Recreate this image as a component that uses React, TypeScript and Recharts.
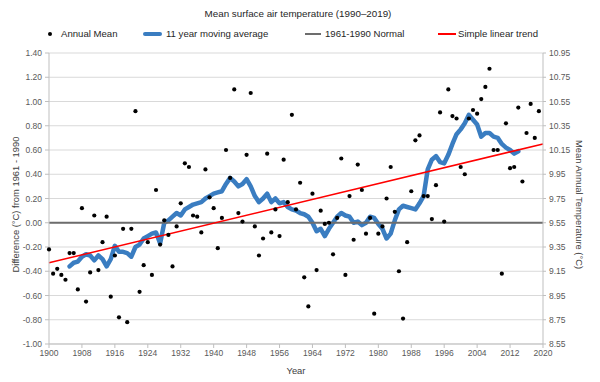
import { CartesianGrid, ComposedChart, Legend, Line, ReferenceLine, XAxis, YAxis } from "recharts";

const FONT = "'Liberation Sans', Arial, sans-serif";
const TITLE = "Mean surface air temperature (1990\u20132019)";

// annual mean difference from the 1961-1990 normal, 1900..2019
const firstYear = 1900;
const annualMean = [
  -0.22, -0.42, -0.38, -0.43, -0.47, -0.25, -0.25, -0.55, 0.12, -0.65,
  -0.41, 0.06, -0.39, -0.16, 0.05, -0.61, -0.27, -0.78, -0.05, -0.82,
  -0.05, 0.92, -0.57, -0.35, -0.16, -0.43, 0.27, -0.18, 0.02, -0.1,
  -0.36, -0.03, 0.16, 0.49, 0.46, 0.06, 0.05, -0.08, 0.44, 0.21,
  0.12, -0.21, 0.04, 0.6, 0.37, 1.1, 0.08, 0.01, 0.56, 1.07,
  -0.03, -0.27, -0.13, 0.57, -0.08, 0.11, -0.11, 0.52, 0.17, 0.89,
  0.11, 0.33, -0.45, -0.69, 0.24, -0.39, 0.1, -0.01, 0.0, -0.26,
  0.04, 0.53, -0.43, 0.22, -0.14, 0.48, 0.27, -0.09, 0.04, -0.75,
  -0.09, -0.03, 0.2, 0.46, 0.09, -0.4, -0.79, -0.16, 0.26, 0.68,
  0.72, 0.22, 0.22, 0.03, 0.31, 0.91, 0.01, 1.1, 0.88, 0.86,
  0.46, 0.4, 0.86, 0.93, 0.9, 1.02, 1.12, 1.27, 0.6, 0.6,
  -0.42, 0.82, 0.45, 0.46, 0.95, 0.34, 0.74, 0.98, 0.7, 0.92,
];

// 11 year moving average, 1905..2014
const avgFirstYear = 1905;
const movingAvg = [
  -0.36, -0.33, -0.32, -0.28, -0.26,
  -0.27, -0.31, -0.27, -0.3, -0.36, -0.3, -0.19, -0.24, -0.24, -0.25,
  -0.28, -0.2, -0.18, -0.13, -0.11, -0.09, -0.08, -0.17, 0.0, 0.02,
  0.05, 0.08, 0.06, 0.11, 0.13, 0.15, 0.16, 0.17, 0.2, 0.22,
  0.24, 0.25, 0.26, 0.32, 0.37, 0.34, 0.3, 0.32, 0.36, 0.3,
  0.22, 0.17, 0.2, 0.24, 0.17, 0.2, 0.16, 0.17, 0.13, 0.11,
  0.1, 0.08, 0.07, 0.05, 0.0, -0.07, -0.05, -0.11, -0.05, 0.0,
  0.05, 0.08, 0.06, 0.05, 0.0, 0.01, -0.02, 0.0, 0.05, 0.04,
  -0.01, -0.05, -0.13, -0.09, 0.02, 0.11, 0.14, 0.13, 0.12, 0.11,
  0.16, 0.22, 0.44, 0.52, 0.55, 0.5, 0.49, 0.56, 0.65, 0.73,
  0.77, 0.82, 0.89, 0.85, 0.81, 0.71, 0.74, 0.74, 0.71, 0.7,
  0.65, 0.62, 0.6, 0.57, 0.59,
];

const trendYears = [1900, 2020];
const trendValues = [-0.33, 0.65];
const NORMAL = 0;

const yearTicks = [1900, 1908, 1916, 1924, 1932, 1940, 1948, 1956, 1964, 1972, 1980, 1988, 1996, 2004, 2012, 2020];
const diffTicks = [-1.0, -0.8, -0.6, -0.4, -0.2, 0.0, 0.2, 0.4, 0.6, 0.8, 1.0, 1.2, 1.4];
const absTicks = [8.55, 8.75, 8.95, 9.15, 9.35, 9.55, 9.75, 9.95, 10.15, 10.35, 10.55, 10.75, 10.95];

const rows: { year: number; mean?: number; avg?: number; trend?: number }[] = [];
for (let y = trendYears[0]; y <= trendYears[1]; y++) {
  const i = y - firstYear;
  const j = y - avgFirstYear;
  const t = trendYears.indexOf(y);
  rows.push({
    year: y,
    mean: i >= 0 && i < annualMean.length ? annualMean[i] : undefined,
    avg: j >= 0 && j < movingAvg.length ? movingAvg[j] : undefined,
    trend: t >= 0 ? trendValues[t] : undefined,
  });
}

const tickStyle = { fontSize: 8.5, fill: "#595959", fontFamily: FONT };
const axisGray = "#bfbfbf";

function Header() {
  const text = { position: "absolute" as const, top: 28, fontSize: 9.6, lineHeight: "12px", color: "#262626" };
  return (
    <div style={{ position: "relative", width: 600, height: 53, fontFamily: FONT }}>
      <div style={{ position: "absolute", top: 8, left: 0, width: 596, textAlign: "center", fontSize: 9.8, color: "#262626" }}>
        {TITLE}
      </div>
      <div style={{ position: "absolute", top: 32, left: 48, width: 4, height: 4, borderRadius: 2, background: "#000" }} />
      <div style={{ ...text, left: 61 }}>Annual Mean</div>
      <div style={{ position: "absolute", top: 32, left: 143, width: 19, height: 4, borderRadius: 2, background: "#3a7dc1" }} />
      <div style={{ ...text, left: 166 }}>11 year moving average</div>
      <div style={{ position: "absolute", top: 33, left: 305, width: 16, height: 2, background: "#6d6d6d" }} />
      <div style={{ ...text, left: 325 }}>1961-1990 Normal</div>
      <div style={{ position: "absolute", top: 33, left: 438, width: 18, height: 2, background: "#ff0000" }} />
      <div style={{ ...text, left: 458 }}>Simple linear trend</div>
    </div>
  );
}

function sideTitle(value: string, side: "left" | "right") {
  return (props: any) => {
    const vb = props.viewBox || {};
    const cx = side === "left" ? vb.x + 10 : vb.x + vb.width - 14;
    const cy = vb.y + vb.height / 2 + 6;
    return (
      <text
        transform={`translate(${cx},${cy}) rotate(${side === "left" ? -90 : 90})`}
        textAnchor="middle"
        dominantBaseline="central"
        fontSize={9.4}
        fontFamily={FONT}
        fill="#404040"
      >
        {value}
      </text>
    );
  };
}

export default function App() {
  return (
    <div style={{ width: 600, height: 382, background: "#fff" }}>
      <style>{"body{margin:0}"}</style>
      <ComposedChart width={600} height={382} data={rows} margin={{ top: 0, right: 7, bottom: 4, left: 5 }}>
        <Legend verticalAlign="top" content={() => <Header />} wrapperStyle={{ top: 0, left: 0, width: 600 }} />
        <CartesianGrid yAxisId="left" vertical={false} stroke="#d9d9d9" />
        <XAxis
          dataKey="year"
          type="number"
          domain={[1900, 2020]}
          ticks={yearTicks}
          height={34}
          tickSize={4}
          tickMargin={2}
          axisLine={{ stroke: axisGray }}
          tickLine={{ stroke: axisGray }}
          tick={tickStyle}
          label={{ value: "Year", position: "insideBottom", offset: 4, fontSize: 9.4, fill: "#404040", fontFamily: FONT }}
        />
        <YAxis
          yAxisId="left"
          type="number"
          domain={[-1, 1.4]}
          ticks={diffTicks}
          tickFormatter={(v: number) => v.toFixed(2)}
          width={44}
          tickSize={4}
          tickMargin={3}
          axisLine={{ stroke: axisGray }}
          tickLine={{ stroke: axisGray }}
          tick={tickStyle}
          allowDataOverflow
          label={{ content: sideTitle("Difference (\u00b0C) from 1961 - 1990", "left") }}
        />
        <YAxis
          yAxisId="right"
          orientation="right"
          type="number"
          domain={[8.55, 10.95]}
          ticks={absTicks}
          tickFormatter={(v: number) => v.toFixed(2)}
          width={50}
          tickSize={3}
          tickMargin={3}
          axisLine={{ stroke: axisGray }}
          tickLine={{ stroke: axisGray }}
          tick={tickStyle}
          allowDataOverflow
          label={{ content: sideTitle("Mean Annual Temperature (\u00b0C)", "right") }}
        />
        <Line
          yAxisId="left"
          dataKey="mean"
          stroke="none"
          dot={{ r: 2.1, fill: "#000", stroke: "none" }}
          activeDot={false}
          isAnimationActive={false}
        />
        <Line
          yAxisId="left"
          dataKey="avg"
          stroke="#3a7dc1"
          strokeWidth={4.5}
          strokeLinejoin="round"
          strokeLinecap="round"
          dot={false}
          activeDot={false}
          isAnimationActive={false}
        />
        <ReferenceLine yAxisId="left" y={NORMAL} stroke="#6d6d6d" strokeWidth={1.8} />
        <Line
          yAxisId="left"
          dataKey="trend"
          stroke="#ff0000"
          strokeWidth={1.5}
          connectNulls
          dot={false}
          activeDot={false}
          isAnimationActive={false}
        />
      </ComposedChart>
    </div>
  );
}
